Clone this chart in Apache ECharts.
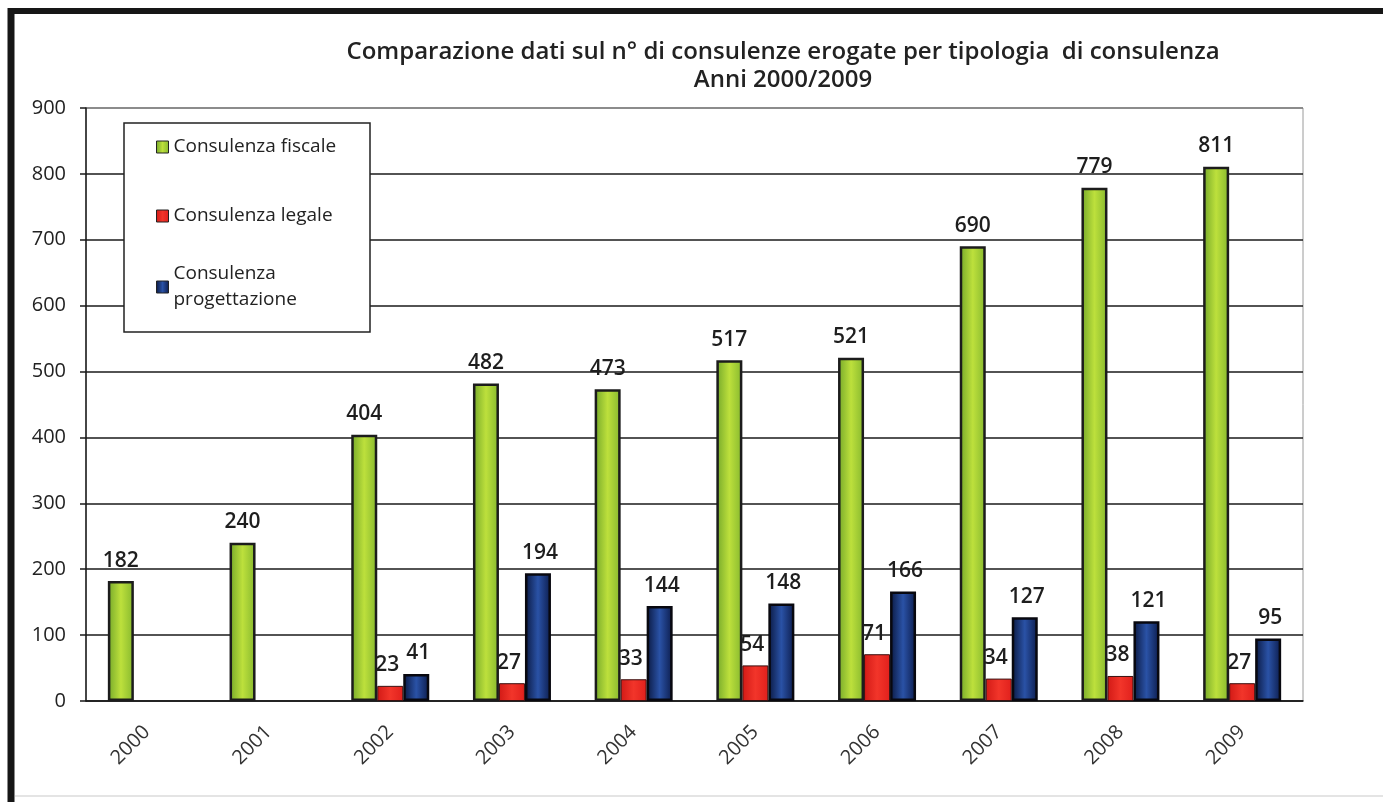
<!DOCTYPE html>
<html>
<head>
<meta charset="utf-8">
<script src="https://cdn.jsdelivr.net/npm/echarts@6/dist/echarts.min.js"></script>
<style>
  html, body { margin: 0; padding: 0; background: #fff; }
  #chart { width: 1383px; height: 802px; }
</style>
</head>
<body>
<div id="chart"></div>
<script>
// chart data
var years = ["2000", "2001", "2002", "2003", "2004", "2005", "2006", "2007", "2008", "2009"];
var fiscale = [182, 240, 404, 482, 473, 517, 521, 690, 779, 811];
var legale = [null, null, 23, 27, 33, 54, 71, 34, 38, 27];
var progettazione = [null, null, 41, 194, 144, 148, 166, 127, 121, 95];
var yTicks = [0, 100, 200, 300, 400, 500, 600, 700, 800, 900];

var font = "'Open Sans', 'DejaVu Sans', sans-serif";

function grad(edge, mid, edge2) {
  return new echarts.graphic.LinearGradient(0, 0, 1, 0, [
    { offset: 0, color: edge },
    { offset: 0.5, color: mid },
    { offset: 1, color: edge2 },
  ]);
}

function barLabel(dx) {
  return {
    show: true,
    position: "top",
    distance: 10,
    offset: [dx, 0],
    fontFamily: font,
    fontSize: 21,
    fontWeight: 600,
    color: "#1e1e1e",
  };
}

var myChart = echarts.init(document.getElementById("chart"));

var legendBase = {
  orient: "vertical",
  left: 156,
  padding: 0,
  icon: "rect",
  itemWidth: 12,
  itemHeight: 12,
  itemGap: 5,
  selectedMode: false,
  itemStyle: { borderColor: "#222", borderWidth: 1 },
  textStyle: { fontFamily: font, fontSize: 19, color: "#222", lineHeight: 22 },
};

var option = {
  animation: false,
  title: {
    text: "Comparazione dati sul n° di consulenze erogate per tipologia  di consulenza\nAnni 2000/2009",
    left: 778,
    top: 33,
    textAlign: "center",
    textStyle: {
      fontFamily: font,
      fontSize: 24,
      fontWeight: 600,
      color: "#222",
      lineHeight: 28,
    },
  },
  graphic: [
    // frame of the scanned page
    { type: "line", shape: { x1: 11, y1: 8, x2: 11, y2: 802 }, style: { stroke: "#161616", lineWidth: 7 } },
    { type: "line", shape: { x1: 8, y1: 11, x2: 1383, y2: 11 }, style: { stroke: "#161616", lineWidth: 6 } },
    { type: "line", shape: { x1: 15, y1: 796, x2: 1383, y2: 796 }, style: { stroke: "#e4e4e4", lineWidth: 2 } },
    // legend box
    {
      type: "rect",
      z: 3,
      shape: { x: 124, y: 123, width: 246, height: 209 },
      style: { fill: "#fff", stroke: "#222", lineWidth: 1.5 },
    },
  ],
  legend: [
    Object.assign({}, legendBase, { top: 136, data: ["Consulenza fiscale"] }),
    Object.assign({}, legendBase, { top: 205, data: ["Consulenza legale"] }),
    Object.assign({}, legendBase, {
      top: 248,
      data: ["Consulenza progettazione"],
      formatter: function (name) {
        return name.replace(" ", "\n");
      },
      textStyle: {
        fontFamily: font,
        fontSize: 19,
        color: "#222",
        lineHeight: 26,
        padding: [26, 0, 0, 0],
      },
    }),
  ],
  grid: {
    left: 86,
    right: 80,
    top: 108,
    bottom: 101,
    show: true,
    borderColor: "#9a9a9a",
    borderWidth: 1,
  },
  xAxis: {
    type: "category",
    data: years,
    axisLine: { lineStyle: { color: "#1a1a1a", width: 1.5 } },
    axisTick: { length: 6, lineStyle: { color: "#1a1a1a", width: 1.5 } },
    axisLabel: {
      rotate: 45,
      margin: 28,
      fontFamily: font,
      fontSize: 20,
      color: "#333",
    },
  },
  yAxis: {
    type: "value",
    min: yTicks[0],
    max: yTicks[yTicks.length - 1],
    interval: 100,
    axisLine: { show: true, lineStyle: { color: "#1a1a1a", width: 1.5 } },
    axisTick: { show: true, length: 6, lineStyle: { color: "#1a1a1a", width: 1.5 } },
    axisLabel: {
      margin: 20,
      fontFamily: font,
      fontSize: 20,
      color: "#222",
    },
    splitLine: {
      lineStyle: {
        color: ["#1a1a1a", "#1a1a1a", "#1a1a1a", "#1a1a1a", "#1a1a1a",
                "#1a1a1a", "#1a1a1a", "#1a1a1a", "#1a1a1a", "#777"],
        width: 1.5,
      },
    },
  },
  series: [
    {
      name: "Consulenza fiscale",
      type: "bar",
      barWidth: 26,
      barGap: "0%",
      data: fiscale,
      itemStyle: {
        color: grad("#74a82a", "#bde03c", "#86b82e"),
        borderColor: "#1c1c1c",
        borderWidth: 2.5,
      },
      label: barLabel(0),
    },
    {
      name: "Consulenza legale",
      type: "bar",
      barWidth: 26,
      barGap: "0%",
      data: legale,
      itemStyle: {
        color: grad("#d21a16", "#f2352a", "#e0201c"),
        borderColor: "#3a1010",
        borderWidth: 1,
      },
      label: barLabel(-3),
    },
    {
      name: "Consulenza progettazione",
      type: "bar",
      barWidth: 26,
      barGap: "0%",
      data: progettazione,
      itemStyle: {
        color: grad("#0a1840", "#2a52a6", "#0c1c4c"),
        borderColor: "#08080f",
        borderWidth: 2.5,
      },
      label: barLabel(2),
    },
  ],
};

option && myChart.setOption(option);
</script>
</body>
</html>
